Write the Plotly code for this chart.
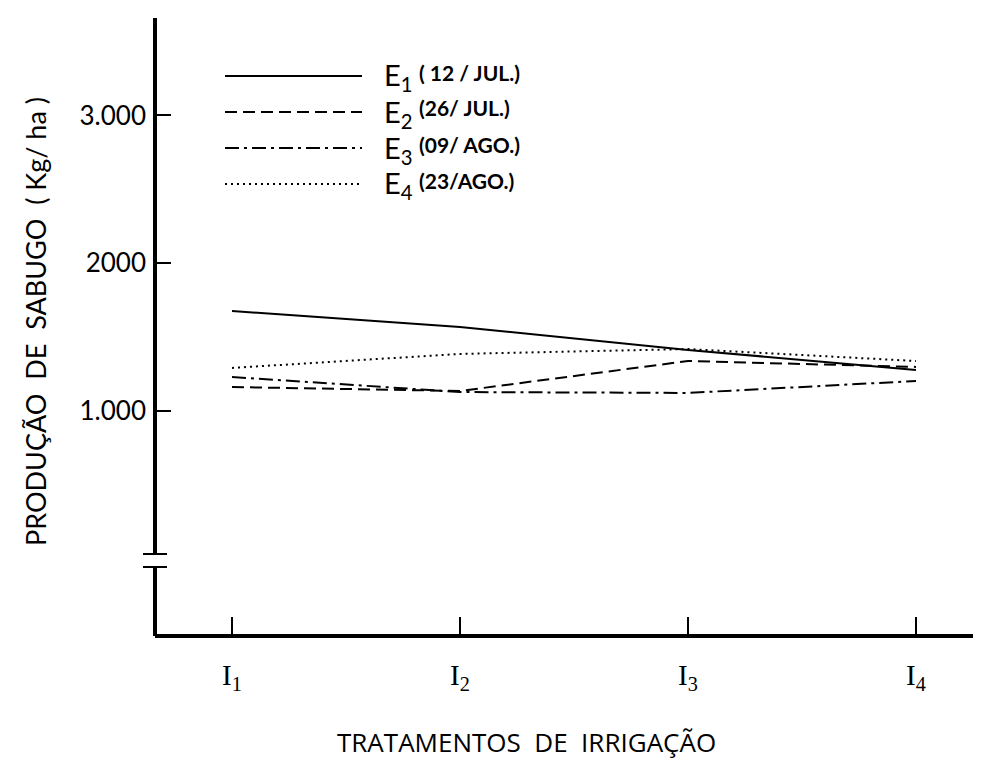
import plotly.graph_objects as go

# ---------------- data ----------------
treatments = [1, 2, 3, 4]
tick_labels = ["I<sub>1</sub>", "I<sub>2</sub>", "I<sub>3</sub>", "I<sub>4</sub>"]
E1 = [1676, 1568, 1413, 1277]
E2 = [1162, 1135, 1338, 1298]
E3 = [1230, 1128, 1122, 1203]
E4 = [1291, 1386, 1419, 1338]
series_names = ["E1 (12/JUL.)", "E2 (26/JUL.)", "E3 (09/AGO.)", "E4 (23/AGO.)"]
legend_sub = ["1", "2", "3", "4"]
legend_dates = ["( 12 / JUL.)", "(26/ JUL.)", "(09/ AGO.)", "(23/AGO.)"]
y_tickvals = [1000, 2000, 3000]
y_ticktext = ["1.000", "2000", "3.000"]

dashes = ["solid", "12px,6px", "14px,5px,3px,5px", "2px,4px"]
series = [E1, E2, E3, E4]

OFF = 8  # page body margin
W, H = 981 - OFF, 759 - OFF
L, R, T, B = 155 - OFF, 0, 18 - OFF, 125
pw, ph = W - L - R, H - T - B

def px_x(p):  # p in page pixels
    return (p - OFF - L) / pw

def px_y(p):
    return (H - B - (p - OFF)) / ph

fig = go.Figure()
for vals, name, d in zip(series, series_names, dashes):
    fig.add_trace(go.Scatter(
        x=treatments, y=vals, mode="lines", name=name,
        line=dict(color="black", width=2, dash=d), showlegend=False))

shapes = []
# y axis with break
shapes.append(dict(type="line", xref="paper", yref="paper", x0=0, x1=0,
                   y0=px_y(554), y1=px_y(18), line=dict(color="black", width=4)))
shapes.append(dict(type="line", xref="paper", yref="paper", x0=0, x1=0,
                   y0=px_y(636), y1=px_y(567), line=dict(color="black", width=4)))
for yy in (554, 567):
    shapes.append(dict(type="line", xref="paper", yref="paper", x0=px_x(143), x1=px_x(167),
                       y0=px_y(yy), y1=px_y(yy), line=dict(color="black", width=2)))

annotations = []
# manual legend
leg_y = [76, 112, 148, 184]
for i, d in enumerate(dashes):
    shapes.append(dict(type="line", xref="paper", yref="paper", x0=px_x(225), x1=px_x(362),
                       y0=px_y(leg_y[i]), y1=px_y(leg_y[i]),
                       line=dict(color="black", width=2, dash=d)))
    annotations.append(dict(xref="paper", yref="paper", x=px_x(382), y=px_y(leg_y[i] + 1),
                            xanchor="left", yanchor="middle", showarrow=False,
                            text="E<sub>" + legend_sub[i] + "</sub>",
                            font=dict(family="Lato", size=29, color="black")))
    annotations.append(dict(xref="paper", yref="paper", x=px_x(417), y=px_y(leg_y[i] - 4),
                            xanchor="left", yanchor="middle", showarrow=False,
                            text="<b>" + legend_dates[i] + "</b>",
                            font=dict(family="Lato", size=21, color="black")))

# axis titles
annotations.append(dict(xref="paper", yref="paper", x=px_x(35), y=px_y(322),
                        xanchor="center", yanchor="middle", showarrow=False, textangle=-90,
                        text="PRODUÇÃO  DE  SABUGO  ( Kg/ ha )",
                        font=dict(family="Lato", size=27, color="black")))
annotations.append(dict(xref="paper", yref="paper", x=px_x(526), y=px_y(742),
                        xanchor="center", yanchor="middle", showarrow=False,
                        text="TRATAMENTOS  DE  IRRIGAÇÃO",
                        font=dict(family="Open Sans", size=26, color="black")))

x_lo = 1 - (232 - 155) / 228.0
x_hi = 1 + (981 - 232) / 228.0
per = 147.75 / 1000.0
y_lo = (558.7 - 634) / per
y_hi = (558.7 - 18) / per

fig.update_layout(
    width=W, height=H,
    margin=dict(l=L, r=R, t=T, b=B),
    paper_bgcolor="white", plot_bgcolor="white",
    shapes=shapes, annotations=annotations,
    xaxis=dict(range=[x_lo, x_hi], tickvals=treatments, ticktext=tick_labels,
               showgrid=False, zeroline=False, showline=True, linecolor="black", linewidth=4,
               ticks="inside", ticklen=17, tickwidth=2, tickcolor="black",
               ticklabelstandoff=12,
               tickfont=dict(family="Liberation Serif", size=29, color="black")),
    yaxis=dict(range=[y_lo, y_hi], tickvals=y_tickvals, ticktext=y_ticktext,
               showgrid=False, zeroline=False, showline=False,
               ticks="inside", ticklen=16, tickwidth=2, tickcolor="black",
               ticklabelstandoff=8,
               tickfont=dict(family="Lato", size=26, color="black")),
)

fig.write_html("out.html")
